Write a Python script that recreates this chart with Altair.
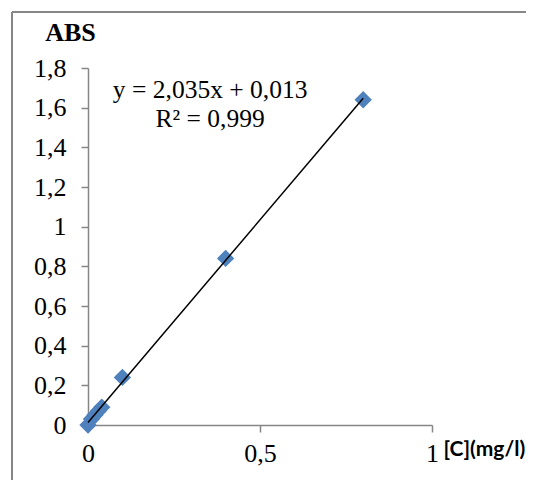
import altair as alt
import pandas as pd

conc = [0.0, 0.01, 0.02, 0.03, 0.04, 0.1, 0.4, 0.8]
absorb = [0.0, 0.03, 0.05, 0.07, 0.09, 0.24, 0.84, 1.64]

eq_lines = ["y = 2,035x + 0,013", "R² = 0,999"]
eq_x = [0.355, 0.355]
eq_y = [1.69, 1.545]

df = pd.DataFrame({"x": conc, "y": absorb})
eq = pd.DataFrame({"x": eq_x, "y": eq_y, "t": eq_lines})

SERIF = "Liberation Serif"
GRAY = "#868686"

xscale = alt.Scale(domain=[0, 1], nice=False, zero=True)
yscale = alt.Scale(domain=[0, 1.8], nice=False, zero=True)

xaxis = alt.Axis(
    tickCount=2, labelExpr="replace(format(datum.value, ''), '.', ',')",
    grid=False, domainColor=GRAY, tickColor=GRAY, domainWidth=1.5, tickWidth=1.5,
    tickSize=7, labelPadding=8, labelFont=SERIF, labelFontSize=26, labelColor="black",
    labelOverlap=False, labelFlush=False,
    title="[C](mg/l)", titleFont="Lato", titleFontSize=21, titleFontWeight="bold",
    titleAnchor="start", titleAlign="left", titleX=355, titleY=30,
    titleBaseline="alphabetic", titleColor="black",
)
yaxis = alt.Axis(
    tickCount=9,
    labelExpr="replace(format(datum.value, ''), '.', ',')",
    grid=False, domainColor=GRAY, tickColor=GRAY, domainWidth=1.5, tickWidth=1.5,
    tickSize=7, labelPadding=15, labelFont=SERIF, labelFontSize=26, labelColor="black",
    labelOverlap=False, labelFlush=False, labelSeparation=0,
    title="ABS", titleFont=SERIF, titleFontSize=26, titleFontWeight="bold",
    titleAngle=0, titleAlign="center", titleX=-18, titleY=-28,
    titleBaseline="alphabetic", titleColor="black",
)

base = alt.Chart(df)

points = base.mark_point(shape="diamond", filled=True, size=300, color="#4F81BD", opacity=1).encode(
    x=alt.X("x:Q", scale=xscale, axis=xaxis),
    y=alt.Y("y:Q", scale=yscale, axis=yaxis),
)

trend = base.transform_regression("x", "y").mark_line(color="black", strokeWidth=1.5).encode(
    x=alt.X("x:Q", scale=xscale),
    y=alt.Y("y:Q", scale=yscale),
)

text = alt.Chart(eq).mark_text(font=SERIF, fontSize=25.5, color="black", align="center", baseline="middle").encode(
    x=alt.X("x:Q", scale=xscale),
    y=alt.Y("y:Q", scale=yscale),
    text="t:N",
)

one = pd.DataFrame({"a": [0]})
frame_left = alt.Chart(one).mark_rule(color=GRAY, strokeWidth=2).encode(
    x=alt.value(-76), y=alt.value(-56), y2=alt.value(600),
)
frame_top = alt.Chart(one).mark_rule(color=GRAY, strokeWidth=2).encode(
    x=alt.value(-76), x2=alt.value(600), y=alt.value(-56),
)

chart = alt.layer(points, trend, text, frame_left, frame_top).properties(
    width=344, height=357,
    autosize=alt.AutoSizeParams(type="none"),
    padding={"left": 80, "top": 60, "right": 94, "bottom": 55},
).configure_view(stroke=None)

chart.save("out.html", embed_options={"renderer": "svg", "actions": False})
